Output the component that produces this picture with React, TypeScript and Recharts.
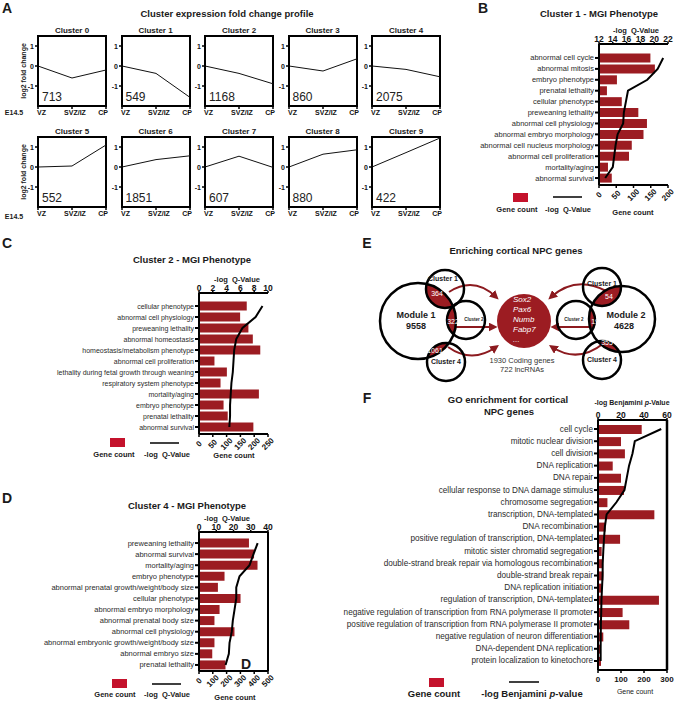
import { Bar, ComposedChart, Line, LineChart, ReferenceArea, XAxis, YAxis } from "recharts"

const FONT = "'Liberation Sans', Arial, Helvetica, sans-serif"
const BAR_RED = "#9c1c22"
const KEY_RED = "#c4122c"
const ARROW_RED = "#8c1a1f"

// Panel A - fold change profiles
const stages = ["VZ", "SVZ/IZ", "CP"]
const clusterNames = ["Cluster 0", "Cluster 1", "Cluster 2", "Cluster 3", "Cluster 4", "Cluster 5", "Cluster 6", "Cluster 7", "Cluster 8", "Cluster 9"]
const clusterSizes = [713, 549, 1168, 860, 2075, 552, 1851, 607, 880, 422]
const foldChanges = [
    [0, -0.6, -0.2],
    [0, -0.37, -1.57],
    [0, -0.37, -0.89],
    [0, -0.25, 0.36],
    [0, -0.17, -0.54],
    [0, 0.05, 1.1],
    [0, 0.37, 0.56],
    [0, 0.54, -0.02],
    [0, 0.64, 0.86],
    [0, 0.72, 1.45],
]
const foldTicks = [-1, 0, 1]

// Panel B - cluster 1 MGI phenotype
const c1Terms = ["abnormal cell cycle", "abnormal mitosis", "embryo phenotype", "prenatal lethality", "cellular phenotype", "preweaning lethality", "abnormal cell physiology", "abnormal embryo morphology", "abnormal cell nucleus morphology", "abnormal cell proliferation", "mortality/aging", "abnormal survival"]
const c1Counts = [149, 162, 52, 23, 66, 114, 139, 129, 95, 87, 26, 37]
const c1LogQ = [21.3, 20.5, 19.0, 16.2, 15.9, 15.6, 15.5, 14.7, 14.4, 14.2, 14.0, 12.9]

// Panel C - cluster 2 MGI phenotype
const c2Terms = ["cellular phenotype", "abnormal cell physiology", "preweaning lethality", "abnormal homeostasis", "homeostasis/metabolism phenotype", "abnormal cell proliferation", "lethality during fetal growth through weaning", "respiratory system phenotype", "mortality/aging", "embryo phenotype", "prenatal lethality", "abnormal survival"]
const c2Counts = [173, 149, 179, 195, 222, 56, 101, 78, 217, 89, 104, 197]
const c2LogQ = [9.2, 8.2, 6.3, 5.4, 5.1, 5.0, 4.9, 4.7, 4.6, 4.5, 4.5, 4.4]

// Panel D - cluster 4 MGI phenotype
const c4Terms = ["preweaning lethality", "abnormal survival", "mortality/aging", "embryo phenotype", "abnormal prenatal growth/weight/body size", "cellular phenotype", "abnormal embryo morphology", "abnormal prenatal body size", "abnormal cell physiology", "abnormal embryonic growth/weight/body size", "abnormal embryo size", "prenatal lethality"]
const c4Counts = [362, 399, 424, 185, 137, 301, 149, 112, 257, 112, 96, 192]
const c4LogQ = [34, 31.6, 29.3, 23.5, 21.6, 21.6, 20.6, 19.6, 19.0, 17.7, 17.3, 15.4]

// Panel F - GO enrichment
const goTerms = ["cell cycle", "mitotic nuclear division", "cell division", "DNA replication", "DNA repair", "cellular response to DNA damage stimulus", "chromosome segregation", "transcription, DNA-templated", "DNA recombination", "positive regulation of transcription, DNA-templated", "mitotic sister chromatid segregation", "double-strand break repair via homologous recombination", "double-strand break repair", "DNA replication initiation", "regulation of transcription, DNA-templated", "negative regulation of transcription from RNA polymerase II promoter", "positive regulation of transcription from RNA polymerase II promoter", "negative regulation of neuron differentiation", "DNA-dependent DNA replication", "protein localization to kinetochore"]
const goCounts = [190, 100, 117, 64, 100, 113, 41, 245, 33, 96, 16, 20, 23, 16, 265, 107, 136, 23, 13, 13]
const goLogP = [55, 32, 30, 27, 25, 23, 16, 7.5, 6, 5.2, 4.6, 4.1, 4, 3.5, 3, 2.8, 2.5, 2.4, 2.3, 2.3]

// Panel E - module overlaps
const module1Overlaps = ["364", "322", "1061"]
const module2Overlaps = ["54", "196", "355"]
const npcGenes = ["Sox2", "Pax6", "Numb", "Fabp7", "..."]

const axisStroke = { stroke: "#000", strokeWidth: 2 }

const StageTick = ({ x, y, payload }: any) => {
    const v = payload.value
    const anchor = v === "VZ" ? "start" : v === "CP" ? "end" : "middle"
    const dx = v === "VZ" ? -1 : v === "CP" ? 2 : 3
    return (
        <text x={x + dx} y={y + 1} textAnchor={anchor} dominantBaseline="central" fontSize={7} fontWeight="bold" fill="#111">
            {v}
        </text>
    )
}

const FoldTick = ({ x, y, payload }: any) => (
    <text x={x} y={y} textAnchor="end" dominantBaseline="central" fontSize={7} fontWeight="bold" fill="#111">
        {String(payload.value)}
    </text>
)

const FoldChart = ({ i }: { i: number }) => {
    const col = i % 5
    const row = Math.floor(i / 5)
    const boxLeft = 38 + col * 83.5
    const boxTop = row === 0 ? 36 : 137
    const data = stages.map((s, k) => ({ stage: s, fc: foldChanges[i][k] }))
    return (
        <div style={{ position: "absolute", left: boxLeft - 16, top: boxTop - 2 }}>
            <LineChart width={16 + 68 + 4} height={2 + 70 + 14} data={data} margin={{ top: 2, right: 4, bottom: 0, left: 0 }}>
                <XAxis dataKey="stage" height={14} interval={0} tickSize={3} tickMargin={2} axisLine={axisStroke} tickLine={{ stroke: "#000", strokeWidth: 1.5 }} tick={<StageTick />} />
                <YAxis width={16} domain={[-2, 1.5]} ticks={foldTicks} interval={0} tickSize={3} tickMargin={1} axisLine={axisStroke} tickLine={{ stroke: "#000", strokeWidth: 1.5 }} tick={<FoldTick />} />
                <ReferenceArea x1="VZ" x2="CP" y1={-2} y2={1.5} fill="none" stroke="#000" strokeWidth={2} ifOverflow="visible" />
                <Line dataKey="fc" stroke="#111" strokeWidth={1} dot={false} type="linear" isAnimationActive={false} />
            </LineChart>
        </div>
    )
}

const SlantTick = ({ x, y, payload }: any) => (
    <text x={x} y={y + 7} transform={`rotate(-45 ${x} ${y + 7})`} textAnchor="middle" dominantBaseline="central" fontSize={8} fontWeight="bold" fill="#111">
        {String(payload.value)}
    </text>
)

const termTick = (size: number) => ({ x, y, payload }: any) => (
    <text x={x} y={y} textAnchor="end" dominantBaseline="central" fontSize={size} fill="#2b2b2b">
        {payload.value}
    </text>
)

type PhenoProps = {
    terms: string[]
    counts: number[]
    scores: number[]
    plotLeft: number
    plotTop: number
    plotH: number
    labelW: number
    padTop: number
    padBottom: number
    countDomain: [number, number]
    countTicks: number[]
    scoreDomain: [number, number]
    scoreTicks: number[]
    labelSize: number
    slanted: boolean
}

const PLOT_W = 69

const PhenoChart = (p: PhenoProps) => {
    const data = p.terms.map((t, k) => ({ term: t, count: p.counts[k], score: p.scores[k] }))
    const bottomH = p.slanted ? 26 : 18
    return (
        <div style={{ position: "absolute", left: p.plotLeft - p.labelW, top: p.plotTop - 14 }}>
            <ComposedChart layout="vertical" width={p.labelW + PLOT_W + 12} height={14 + p.plotH + bottomH} data={data} margin={{ top: 0, right: 12, bottom: 0, left: 0 }}>
                <XAxis xAxisId="score" type="number" orientation="top" domain={p.scoreDomain} ticks={p.scoreTicks} interval={0} height={14} tickSize={2} tickMargin={0} axisLine={axisStroke} tickLine={{ stroke: "#000", strokeWidth: 1.5 }} tick={{ fontSize: 8.5, fontWeight: 700, fill: "#111" }} />
                <XAxis xAxisId="count" type="number" orientation="bottom" domain={p.countDomain} ticks={p.countTicks} interval={0} height={bottomH} tickSize={3} tickMargin={p.slanted ? 0 : 3} axisLine={axisStroke} tickLine={{ stroke: "#000", strokeWidth: 1.5 }} tick={p.slanted ? <SlantTick /> : { fontSize: 8, fontWeight: 700, fill: "#111" }} />
                <YAxis type="category" dataKey="term" width={p.labelW} interval={0} padding={{ top: p.padTop, bottom: p.padBottom }} tickSize={4} tickMargin={1} axisLine={axisStroke} tickLine={{ stroke: "#000", strokeWidth: 2 }} tick={termTick(p.labelSize)} />
                <Bar xAxisId="count" dataKey="count" fill={BAR_RED} barSize={9} isAnimationActive={false} />
                <Line xAxisId="score" dataKey="score" stroke="#000" strokeWidth={2} dot={false} type="linear" isAnimationActive={false} />
            </ComposedChart>
        </div>
    )
}

const T = ({ x, y, s, b, a = "middle", c = "#1a1a1a", it, rot, children }: any) => (
    <text x={x} y={y} fontSize={s} fontWeight={b ? "bold" : "normal"} fontStyle={it ? "italic" : "normal"} textAnchor={a} fill={c} dominantBaseline="central" transform={rot ? `rotate(${rot} ${x} ${y})` : undefined} style={{ whiteSpace: "pre" }}>
        {children}
    </text>
)

const Key = ({ rx, ry, lx, ly, tx1, tx2, ty, s }: any) => (
    <g>
        <rect x={rx} y={ry} width={15} height={9} fill={KEY_RED} />
        <line x1={lx} y1={ly} x2={lx + 29} y2={ly} stroke="#000" strokeWidth={1.5} />
        <T x={tx1} y={ty} s={s} b>Gene count</T>
        <T x={tx2} y={ty} s={s} b>-log  Q-Value</T>
    </g>
)

const PanelE = () => {
    const m1 = { cx: 418, cy: 321, r: 38 }
    const m2 = { cx: 622, cy: 319, r: 33 }
    const left = [{ cx: 445, cy: 289, r: 19 }, { cx: 466, cy: 320, r: 19 }, { cx: 446, cy: 362, r: 19 }]
    const right = [{ cx: 602, cy: 287, r: 19 }, { cx: 576, cy: 320, r: 19 }, { cx: 602, cy: 360, r: 19 }]
    const leftNum = [[437, 293], [453, 321], [435, 350]]
    const rightNum = [[609, 296], [597, 321], [607, 342]]
    const arrows = [
        "M 449 292 Q 474 276 496 297",
        "M 456 327 L 494 327",
        "M 448 347 Q 472 364 496 347",
        "M 606 291 Q 576 275 551 297",
        "M 592 327 L 554 327",
        "M 604 343 Q 578 364 552 347",
    ]
    return (
        <g>
            <defs>
                <clipPath id="clipM1"><circle cx={m1.cx} cy={m1.cy} r={m1.r} /></clipPath>
                <clipPath id="clipM2"><circle cx={m2.cx} cy={m2.cy} r={m2.r} /></clipPath>
                <marker id="arrowHead" viewBox="0 0 10 10" refX="6" refY="5" markerWidth="4.5" markerHeight="4.5" orient="auto">
                    <path d="M0,0 L10,5 L0,10 z" fill={ARROW_RED} />
                </marker>
            </defs>
            {left.map((c, k) => <circle key={"lf" + k} cx={c.cx} cy={c.cy} r={c.r} fill={BAR_RED} clipPath="url(#clipM1)" />)}
            {right.map((c, k) => <circle key={"rf" + k} cx={c.cx} cy={c.cy} r={c.r} fill={BAR_RED} clipPath="url(#clipM2)" />)}
            <circle cx={524} cy={321} r={27} fill={BAR_RED} />
            {arrows.map((d, k) => <path key={"a" + k} d={d} fill="none" stroke={ARROW_RED} strokeWidth={2} markerEnd="url(#arrowHead)" />)}
            {[m1, m2, ...left, ...right].map((c, k) => <circle key={"c" + k} cx={c.cx} cy={c.cy} r={c.r} fill="none" stroke="#000" strokeWidth={2.5} />)}
            {module1Overlaps.map((n, k) => <T key={"ln" + k} x={leftNum[k][0]} y={leftNum[k][1]} s={7} c="#fff">{n}</T>)}
            {module2Overlaps.map((n, k) => <T key={"rn" + k} x={rightNum[k][0]} y={rightNum[k][1]} s={7} c="#fff">{n}</T>)}
            {npcGenes.map((g, k) => <T key={"g" + k} x={513} y={299 + k * 10} s={8} a="start" c="#fff" it>{g}</T>)}
            <T x={443} y={278} s={7} b>Cluster 1</T>
            <T x={474} y={319} s={4.5} b>Cluster 2</T>
            <T x={446} y={361} s={7} b>Cluster 4</T>
            <T x={602} y={283} s={7} b>Cluster 1</T>
            <T x={574} y={319} s={4.5} b>Cluster 2</T>
            <T x={602} y={359} s={7} b>Cluster 4</T>
            <T x={416} y={315} s={9} b>Module 1</T>
            <T x={416} y={326} s={9} b>9558</T>
            <T x={626} y={315} s={9} b>Module 2</T>
            <T x={624} y={326} s={9} b>4628</T>
            <T x={522} y={360} s={7.5} c="#333">1930 Coding genes</T>
            <T x={522} y={369} s={7.5} c="#333">722 lncRNAs</T>
        </g>
    )
}

const App = () => {
    return (
        <div style={{ position: "absolute", left: 0, top: 0, width: 676, height: 702, background: "#fff", fontFamily: FONT }}>
            {clusterNames.map((_, i) => <FoldChart key={i} i={i} />)}

            <PhenoChart terms={c1Terms} counts={c1Counts} scores={c1LogQ} plotLeft={599} plotTop={44} plotH={141} labelW={132} padTop={8.5} padBottom={1.5}
                countDomain={[0, 200]} countTicks={[0, 50, 100, 150, 200]} scoreDomain={[12, 22]} scoreTicks={[12, 14, 16, 18, 20, 22]} labelSize={7.5} slanted />
            <PhenoChart terms={c2Terms} counts={c2Counts} scores={c2LogQ} plotLeft={199} plotTop={293} plotH={141} labelW={168} padTop={7.5} padBottom={1.5}
                countDomain={[0, 250]} countTicks={[0, 50, 100, 150, 200, 250]} scoreDomain={[0, 10]} scoreTicks={[0, 2, 4, 6, 8, 10]} labelSize={7} slanted />
            <PhenoChart terms={c4Terms} counts={c4Counts} scores={c4LogQ} plotLeft={199} plotTop={532} plotH={139} labelW={172} padTop={5.5} padBottom={0.5}
                countDomain={[0, 500]} countTicks={[0, 100, 200, 300, 400, 500]} scoreDomain={[0, 40]} scoreTicks={[0, 10, 20, 30, 40]} labelSize={7.5} slanted />
            <PhenoChart terms={goTerms} counts={goCounts} scores={goLogP} plotLeft={598} plotTop={420} plotH={250} labelW={294} padTop={2.9} padBottom={2.9}
                countDomain={[0, 300]} countTicks={[0, 100, 200, 300]} scoreDomain={[0, 60]} scoreTicks={[0, 20, 40, 60]} labelSize={8.2} slanted={false} />

            <svg width={676} height={702} style={{ position: "absolute", left: 0, top: 0, pointerEvents: "none", overflow: "visible" }}>
                {/* panel letters */}
                <T x={7} y={8} s={14} b>A</T>
                <T x={483} y={8} s={14} b>B</T>
                <T x={7} y={243} s={14} b>C</T>
                <T x={7} y={498} s={14} b>D</T>
                <T x={367} y={243} s={14} b>E</T>
                <T x={367} y={398} s={14} b>F</T>

                {/* panel A */}
                <T x={227} y={13} s={9.5} b>Cluster expression fold change profile</T>
                {clusterNames.map((n, i) => {
                    const col = i % 5
                    const row = Math.floor(i / 5)
                    const boxLeft = 38 + col * 83.5
                    const boxTop = row === 0 ? 36 : 137
                    return (
                        <g key={n}>
                            <T x={boxLeft + 34} y={boxTop - 5.5} s={8} b>{n}</T>
                            <T x={boxLeft + 4} y={boxTop + 61} s={12} a="start" c="#222">{clusterSizes[i]}</T>
                        </g>
                    )
                })}
                <T x={23} y={71} s={7} b rot={-90}>log2 fold change</T>
                <T x={23} y={172} s={7} b rot={-90}>log2 fold change</T>
                <T x={14} y={112} s={7} b>E14.5</T>
                <T x={14} y={216} s={7} b>E14.5</T>

                {/* panel B */}
                <T x={599} y={13} s={9.5} b>Cluster 1 - MGI Phenotype</T>
                <T x={636} y={30.5} s={7.5} b>-log  Q-Value</T>
                <T x={633} y={212} s={7.5} b>Gene count</T>
                <Key rx={513} ry={193} lx={553} ly={197} tx1={517} tx2={568} ty={209} s={7.5} />

                {/* panel C */}
                <T x={192} y={259} s={9.5} b>Cluster 2 - MGI Phenotype</T>
                <T x={237} y={279.5} s={7.5} b>-log  Q-Value</T>
                <T x={234} y={455} s={7.5} b>Gene count</T>
                <Key rx={110} ry={438} lx={150} ly={443} tx1={114} tx2={167} ty={454} s={7.5} />

                {/* panel D */}
                <T x={187} y={505} s={9.5} b>Cluster 4 - MGI Phenotype</T>
                <T x={227} y={518.5} s={7.5} b>-log  Q-Value</T>
                <T x={235} y={697} s={7.5} b>Gene count</T>
                <line x1={268} y1={532} x2={268} y2={671} stroke="#000" strokeWidth={2} />
                <T x={246} y={664} s={14} b>D</T>
                <Key rx={112} ry={679} lx={152} ly={684} tx1={115} tx2={167} ty={694} s={7.5} />

                {/* panel E */}
                <T x={516} y={250} s={9.5} b>Enriching cortical NPC genes</T>
                <PanelE />

                {/* panel F */}
                <T x={508} y={399} s={9.5} b>GO enrichment for cortical</T>
                <T x={509} y={411} s={9.5} b>NPC genes</T>
                <text x={632} y={402} fontSize={7} fontWeight="bold" textAnchor="middle" dominantBaseline="central" fill="#1a1a1a">
                    -log Benjamini <tspan fontStyle="italic">p</tspan>-Value
                </text>
                <line x1={667} y1={420} x2={667} y2={670} stroke="#000" strokeWidth={2.5} />
                <T x={635} y={691} s={7} c="#222">Gene count</T>
                <rect x={429} y={678} width={15} height={9} fill={KEY_RED} />
                <line x1={509} y1={682} x2={539} y2={682} stroke="#000" strokeWidth={1.5} />
                <T x={434} y={693} s={9.5} b>Gene count</T>
                <text x={532} y={693} fontSize={9.5} fontWeight="bold" textAnchor="middle" dominantBaseline="central" fill="#1a1a1a">
                    -log Benjamini <tspan fontStyle="italic">p</tspan>-value
                </text>
            </svg>
        </div>
    )
}

export default App
